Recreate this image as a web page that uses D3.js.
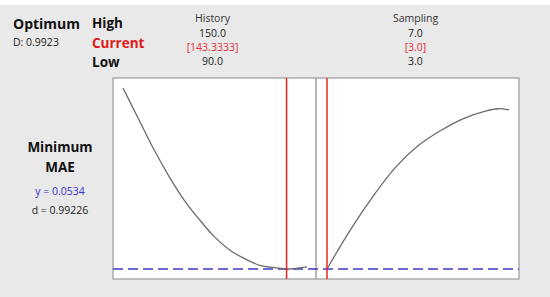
<!DOCTYPE html>
<html>
<head>
<meta charset="utf-8">
<script src="https://cdn.jsdelivr.net/npm/d3@7"></script>
<style>
  body { margin: 0; background: #fff; }
  svg text { font-family: "Open Sans", sans-serif; }
</style>
</head>
<body>
<script>
//optimization plot: MAE response vs History and Sampling

//factor names and settings
var factors = ["History", "Sampling"];
var highVals = ["150.0", "7.0"];
var currentVals = ["[143.3333]", "[3.0]"];
var lowVals = ["90.0", "3.0"];
var currentNum = [143.3333, 3.0];
var ranges = [[90, 150], [3, 7]];

//response profile along History
var historyX = [90, 95, 100, 105, 110, 115, 120, 125, 130, 135, 140, 143.3333, 145, 150];
var historyMAE = [0.0700, 0.0672, 0.0644, 0.0619, 0.0597, 0.0579, 0.0563, 0.0551, 0.0543, 0.0537, 0.0535, 0.0534, 0.05342, 0.0536];

//response profile along Sampling
var samplingX = [3, 3.5, 4, 4.5, 5, 5.5, 6, 6.5, 6.75, 7];
var samplingMAE = [0.0534, 0.0569, 0.0600, 0.0627, 0.0647, 0.0661, 0.0672, 0.0679, 0.0681, 0.0680];

var yOpt = 0.0534;

(function(){

    var width = 550,
        height = 297;

    var svg = d3.select("body")
        .append("svg")
        .attr("width", width)
        .attr("height", height);

    //gray panel background
    svg.append("rect")
        .attr("x", 0).attr("y", 5)
        .attr("width", width).attr("height", height - 5)
        .attr("fill", "#e9e9e9");

    var top = 78, bottom = 279;
    var panels = [{x0: 113, x1: 316}, {x0: 316, x1: 519}];

    var y = d3.scaleLinear()
        .domain([0.05248, 0.07092])
        .range([bottom, top]);

    //white plot area
    svg.append("rect")
        .attr("x", panels[0].x0).attr("y", top)
        .attr("width", panels[1].x1 - panels[0].x0).attr("height", bottom - top)
        .attr("fill", "#fff")
        .attr("stroke", "#9a9a9a")
        .attr("stroke-width", 1.2);

    //separator between panels
    svg.append("line")
        .attr("x1", panels[1].x0).attr("x2", panels[1].x0)
        .attr("y1", top).attr("y2", bottom)
        .attr("stroke", "#8a8a8a")
        .attr("stroke-width", 1.2);

    var xScales = [
        d3.scaleLinear().domain(ranges[0]).range([panels[0].x0 + 10, panels[0].x1 - 9]),
        d3.scaleLinear().domain(ranges[1]).range([panels[1].x0 + 11, panels[1].x1 - 10])
    ];

    var profiles = [
        d3.zip(historyX, historyMAE),
        d3.zip(samplingX, samplingMAE)
    ];

    //dashed optimum line
    svg.append("line")
        .attr("x1", panels[0].x0).attr("x2", panels[1].x1)
        .attr("y1", y(yOpt)).attr("y2", y(yOpt))
        .attr("stroke", "#3a3acc")
        .attr("stroke-width", 1.6)
        .attr("stroke-dasharray", "10,5");

    profiles.forEach(function(pts, i){
        var line = d3.line()
            .x(function(d){ return xScales[i](d[0]); })
            .y(function(d){ return y(d[1]); })
            .curve(d3.curveCatmullRom);

        svg.append("path")
            .datum(pts)
            .attr("d", line)
            .attr("fill", "none")
            .attr("stroke", "#6b6b6b")
            .attr("stroke-width", 1.3);

        //current setting line
        svg.append("line")
            .attr("x1", xScales[i](currentNum[i])).attr("x2", xScales[i](currentNum[i]))
            .attr("y1", top).attr("y2", bottom)
            .attr("stroke", "#ee2222")
            .attr("stroke-width", 1.5);

        var cx = (panels[i].x0 + panels[i].x1) / 2 - 2;
        var rows = [[factors[i], 22, "#333"], [highVals[i], 37, "#222"], [currentVals[i], 51, "#e03030"], [lowVals[i], 65, "#222"]];
        rows.forEach(function(r){
            svg.append("text")
                .attr("x", cx).attr("y", r[1])
                .attr("text-anchor", "middle")
                .attr("font-size", "10.5px")
                .attr("fill", r[2])
                .text(r[0]);
        });
    });

    //left-hand labels
    svg.append("text").attr("x", 13).attr("y", 29)
        .attr("font-size", "14px").attr("font-weight", "bold").attr("fill", "#111")
        .text("Optimum");
    svg.append("text").attr("x", 13).attr("y", 46)
        .attr("font-size", "10.5px").attr("fill", "#222")
        .text("D: 0.9923");

    [["High", 28, "#111"], ["Current", 48, "#e01818"], ["Low", 67, "#111"]].forEach(function(r){
        svg.append("text").attr("x", 92).attr("y", r[1])
            .attr("font-size", "13.5px").attr("font-weight", "bold").attr("fill", r[2])
            .text(r[0]);
    });

    svg.append("text").attr("x", 60).attr("y", 152)
        .attr("text-anchor", "middle")
        .attr("font-size", "13.5px").attr("font-weight", "bold").attr("fill", "#111")
        .text("Minimum");
    svg.append("text").attr("x", 60).attr("y", 172)
        .attr("text-anchor", "middle")
        .attr("font-size", "13.5px").attr("font-weight", "bold").attr("fill", "#111")
        .text("MAE");
    svg.append("text").attr("x", 60).attr("y", 195)
        .attr("text-anchor", "middle")
        .attr("font-size", "10.5px").attr("fill", "#3434d0")
        .text("y = " + yOpt.toFixed(4));
    svg.append("text").attr("x", 60).attr("y", 214)
        .attr("text-anchor", "middle")
        .attr("font-size", "10.5px").attr("fill", "#222")
        .text("d = 0.99226");

})();
</script>
</body>
</html>
